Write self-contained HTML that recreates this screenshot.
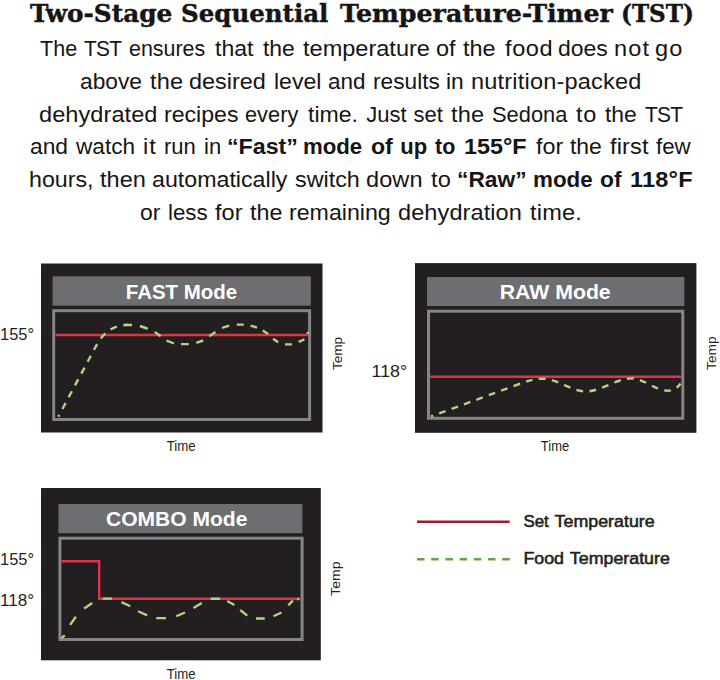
<!DOCTYPE html>
<html>
<head>
<meta charset="utf-8">
<style>
html,body{margin:0;padding:0;background:#fff;}
body{width:720px;height:680px;position:relative;overflow:hidden;color:#161414;}
.t{position:absolute;white-space:nowrap;line-height:1;transform-origin:0 0;}
.title{font-family:"DejaVu Serif","Liberation Serif",serif;font-weight:bold;font-size:25px;-webkit-text-stroke:0.45px #161414;}
.p{font-family:"Liberation Sans",sans-serif;font-size:22px;}
.ln{position:absolute;left:0;width:720px;height:30px;font-family:"Liberation Sans",sans-serif;font-size:22px;line-height:1;}
.w{position:absolute;top:0;white-space:nowrap;transform-origin:0 0;}
.w.b{font-weight:bold;}
svg{position:absolute;left:0;top:0;}
</style>
</head>
<body>
<svg width="720" height="680" viewBox="0 0 720 680" font-family="Liberation Sans, sans-serif">
  <!-- FAST -->
  <rect x="41" y="263.5" width="281.5" height="169" fill="#231f20"/>
  <rect x="52.6" y="276.3" width="258.2" height="29.4" fill="#6d6e71"/>
  <rect x="53.7" y="310.7" width="255.9" height="108.8" fill="none" stroke="#858486" stroke-width="3"/>
  <line x1="55.4" y1="335" x2="307.8" y2="335" stroke="#dc3448" stroke-width="2.4"/>
  <path d="M58.3,416.6 L95.5,347 C101,336.5 110,324.8 128,324.8" fill="none" stroke="#acd681" stroke-width="2.4" stroke-dasharray="6.8 6.6" stroke-dashoffset="4.8"/>
  <path d="M124.4,325 L132.1,325 M140,326 L147.75,328.75 M154.75,331.9 L160.6,336.25 M166.5,340.6 L174,343.5 M181,344.1 L188.75,344.1 M196.25,342.9 L203.2,340.5 M209.3,336.25 L215.4,332.1 M222.1,327.9 L229.2,325.7 M236.8,324.6 L243.75,324.6 M250.6,325.6 L256.9,327.5 M262.75,330.6 L268.1,334.1 M273.1,338.75 L278.1,342.25 M285,344.4 L291.9,344.4 M298.75,341.9 L304.4,339.4 M307.3,334 L308.3,332" fill="none" stroke="#acd681" stroke-width="2.4"/>
  <text x="181.5" y="299.3" fill="#fff" font-weight="bold" font-size="21" text-anchor="middle" textLength="111.3" lengthAdjust="spacingAndGlyphs">FAST Mode</text>
  <text x="0" y="340.4" fill="#231f20" font-size="17" textLength="34" lengthAdjust="spacingAndGlyphs">155°</text>
  <text transform="translate(342,370.1) rotate(-90)" fill="#231f20" font-size="13.4" textLength="33.3" lengthAdjust="spacingAndGlyphs">Temp</text>
  <text x="166.7" y="450.8" fill="#231f20" font-size="13.9" textLength="29" lengthAdjust="spacingAndGlyphs">Time</text>

  <!-- RAW -->
  <rect x="415" y="263.1" width="281.4" height="169.7" fill="#231f20"/>
  <rect x="427" y="277" width="257.3" height="29" fill="#6d6e71"/>
  <rect x="428.5" y="311.2" width="254.3" height="107.1" fill="none" stroke="#858486" stroke-width="3"/>
  <line x1="430.2" y1="376.8" x2="681.4" y2="376.8" stroke="#dc3448" stroke-width="2.4"/>
  <path d="M431,416.4 L518,384.5 C527,381.2 533,378.7 543,378.7 C558,378.7 571,391.4 586,391.4 C601,391.4 616,378.4 631.8,378.4 C644,378.4 655,390.7 668,390.7 C673,390.7 677,388.5 680.5,383.5" fill="none" stroke="#acd681" stroke-width="2.4" stroke-dasharray="6.8 6.4" stroke-dashoffset="4.5"/>
  <text x="555.2" y="298.7" fill="#fff" font-weight="bold" font-size="21" text-anchor="middle" textLength="111" lengthAdjust="spacingAndGlyphs">RAW Mode</text>
  <text x="371.6" y="376.8" fill="#231f20" font-size="17" textLength="35.6" lengthAdjust="spacingAndGlyphs">118°</text>
  <text transform="translate(715.6,369.9) rotate(-90)" fill="#231f20" font-size="13.4" textLength="33.6" lengthAdjust="spacingAndGlyphs">Temp</text>
  <text x="540.8" y="450.8" fill="#231f20" font-size="13.9" textLength="28.4" lengthAdjust="spacingAndGlyphs">Time</text>

  <!-- COMBO -->
  <rect x="41" y="488" width="279.8" height="172.3" fill="#231f20"/>
  <rect x="58.4" y="504" width="244" height="29.2" fill="#6d6e71"/>
  <rect x="59.9" y="538.2" width="242.2" height="101.3" fill="none" stroke="#858486" stroke-width="3"/>
  <path d="M61.6,561.2 L99.2,561.2 L99.2,598.7 L300.4,598.7" fill="none" stroke="#dc3448" stroke-width="2.4"/>
  <path d="M61.3,638.3 L64.75,635.4 M70.1,624.9 L75.9,616.6 M84.2,608.6 L92.2,603 M102.7,598.6 L111.9,598.6 M121.5,602.1 L130.25,606.25 M138.1,611.25 L147.25,615.4 M156.25,618.1 L166,618.1 M176.25,616.25 L185,612.5 M193.5,608 L201.7,603 M210.6,598.7 L220,598.7 M227.25,601 L234.4,605 M240.25,610 L247.25,615.6 M256,618.5 L264.75,618.5 M273.5,616.25 L281.5,612.5 M288.3,605.3 L292.9,600.5 M297.2,599.3 L299,598.8" fill="none" stroke="#acd681" stroke-width="2.4"/>
  <text x="176.7" y="525.6" fill="#fff" font-weight="bold" font-size="21" text-anchor="middle" textLength="141.4" lengthAdjust="spacingAndGlyphs">COMBO Mode</text>
  <text x="0" y="565.3" fill="#231f20" font-size="17" textLength="34" lengthAdjust="spacingAndGlyphs">155°</text>
  <text x="0" y="605.9" fill="#231f20" font-size="17" textLength="34" lengthAdjust="spacingAndGlyphs">118°</text>
  <text transform="translate(339.7,595.9) rotate(-90)" fill="#231f20" font-size="13.4" textLength="34.4" lengthAdjust="spacingAndGlyphs">Temp</text>
  <text x="166.7" y="678.8" fill="#231f20" font-size="13.9" textLength="29" lengthAdjust="spacingAndGlyphs">Time</text>

  <!-- legend -->
  <line x1="417" y1="521.7" x2="509.7" y2="521.7" stroke="#9e1a2e" stroke-width="2.4"/>
  <line x1="417" y1="559.2" x2="510" y2="559.2" stroke="#64a443" stroke-width="2.4" stroke-dasharray="7.5 6.7"/>
  <g fill="#231f20" stroke="#231f20" stroke-width="0.55" font-size="16.5">
  <text x="523.4" y="526.5" textLength="25.4" lengthAdjust="spacingAndGlyphs">Set</text>
  <text x="554.6" y="526.5" textLength="100.1" lengthAdjust="spacingAndGlyphs">Temperature</text>
  <text x="523.4" y="564.4" textLength="40.6" lengthAdjust="spacingAndGlyphs">Food</text>
  <text x="569.8" y="564.4" textLength="100.1" lengthAdjust="spacingAndGlyphs">Temperature</text>
  </g>
  </svg>

<div class="t title" id="title" style="left:0;top:0.8px;width:720px;height:30px;"><span class="w" style="left:30.00px;transform:scaleX(0.9909)">Two-Stage</span> <span class="w" style="left:180.72px;transform:scaleX(0.9799)">Sequential</span> <span class="w" style="left:340.00px;transform:scaleX(1.0122)">Temperature-Timer</span> <span class="w" style="left:621.45px;transform:scaleX(0.9227)">(TST)</span></div>
<div id="para">
<div class="ln" style="top:37.9px"><span class="w" style="left:39.50px;transform:scaleX(0.9797)">The</span> <span class="w" style="left:84.25px;transform:scaleX(0.9500);letter-spacing:-0.76px">TST</span> <span class="w" style="left:129.03px;transform:scaleX(0.9740)">ensures</span> <span class="w" style="left:215.00px;transform:scaleX(1.0473)">that</span> <span class="w" style="left:262.50px;transform:scaleX(1.0417)">the</span> <span class="w" style="left:302.50px;transform:scaleX(1.0699)">temperature</span> <span class="w" style="left:435.93px;transform:scaleX(1.0694)">of</span> <span class="w" style="left:463.00px;transform:scaleX(1.0667)">the</span> <span class="w" style="left:504.50px;transform:scaleX(1.0700);letter-spacing:0.56px">food</span> <span class="w" style="left:558.46px;transform:scaleX(1.0435)">does</span> <span class="w" style="left:614.43px;transform:scaleX(1.0700);letter-spacing:1.12px">not</span> <span class="w" style="left:655.18px;transform:scaleX(1.0700);letter-spacing:1.07px">go</span></div>
<div class="ln" style="top:70.75px"><span class="w" style="left:80.22px;transform:scaleX(1.0345)">above</span> <span class="w" style="left:150.00px;transform:scaleX(1.0700);letter-spacing:0.19px">the</span> <span class="w" style="left:189.44px;transform:scaleX(1.0643)">desired</span> <span class="w" style="left:273.95px;transform:scaleX(1.0465)">level</span> <span class="w" style="left:327.73px;transform:scaleX(1.0214)">and</span> <span class="w" style="left:372.72px;transform:scaleX(1.0317)">results</span> <span class="w" style="left:445.97px;transform:scaleX(1.0333)">in</span> <span class="w" style="left:470.93px;transform:scaleX(1.0700);letter-spacing:0.18px">nutrition-packed</span></div>
<div class="ln" style="top:103.6px"><span class="w" style="left:38.93px;transform:scaleX(1.0700);letter-spacing:0.07px">dehydrated</span> <span class="w" style="left:163.95px;transform:scaleX(1.0507)">recipes</span> <span class="w" style="left:245.26px;transform:scaleX(0.9906)">every</span> <span class="w" style="left:308.00px;transform:scaleX(1.0489)">time.</span> <span class="w" style="left:366.25px;transform:scaleX(1.0000)">Just</span> <span class="w" style="left:413.50px;transform:scaleX(1.0000)">set</span> <span class="w" style="left:451.25px;transform:scaleX(1.0700);letter-spacing:0.19px">the</span> <span class="w" style="left:491.51px;transform:scaleX(0.9933)">Sedona</span> <span class="w" style="left:576.25px;transform:scaleX(1.0700);letter-spacing:0.69px">to</span> <span class="w" style="left:605.00px;transform:scaleX(1.0417)">the</span> <span class="w" style="left:645.00px;transform:scaleX(0.9500);letter-spacing:-0.76px">TST</span></div>
<div class="ln" style="top:136.4px"><span class="w" style="left:30.21px;transform:scaleX(1.0357)">and</span> <span class="w" style="left:76.25px;transform:scaleX(1.0268)">watch</span> <span class="w" style="left:142.93px;transform:scaleX(1.0700);letter-spacing:0.93px">it</span> <span class="w" style="left:164.00px;transform:scaleX(1.0000)">run</span> <span class="w" style="left:204.00px;transform:scaleX(1.0000)">in</span> <span class="w b" style="left:226.64px;transform:scaleX(1.0547)">“Fast”</span> <span class="w b" style="left:303.49px;transform:scaleX(1.0088)">mode</span> <span class="w b" style="left:370.95px;transform:scaleX(1.0500)">of</span> <span class="w b" style="left:400.25px;transform:scaleX(1.0000)">up</span> <span class="w b" style="left:435.00px;transform:scaleX(0.9750)">to</span> <span class="w b" style="left:463.94px;transform:scaleX(1.0614)">155°F</span> <span class="w" style="left:535.50px;transform:scaleX(1.0600)">for</span> <span class="w" style="left:570.00px;transform:scaleX(1.0417)">the</span> <span class="w" style="left:609.50px;transform:scaleX(1.0700);letter-spacing:0.13px">first</span> <span class="w" style="left:656.25px;transform:scaleX(1.0147)">few</span></div>
<div class="ln" style="top:169.1px"><span class="w" style="left:28.94px;transform:scaleX(1.0560)">hours,</span> <span class="w" style="left:99.50px;transform:scaleX(1.0700)">then</span> <span class="w" style="left:151.95px;transform:scaleX(1.0547)">automatically</span> <span class="w" style="left:295.19px;transform:scaleX(1.0593)">switch</span> <span class="w" style="left:366.43px;transform:scaleX(1.0700);letter-spacing:0.08px">down</span> <span class="w" style="left:430.50px;transform:scaleX(1.0700);letter-spacing:0.22px">to</span> <span class="w b" style="left:456.68px;transform:scaleX(1.0352)">“Raw”</span> <span class="w b" style="left:533.48px;transform:scaleX(1.0175)">mode</span> <span class="w b" style="left:600.21px;transform:scaleX(1.0375)">of</span> <span class="w b" style="left:630.18px;transform:scaleX(1.0700);letter-spacing:0.19px">118°F</span></div>
<div class="ln" style="top:201.75px"><span class="w" style="left:140.21px;transform:scaleX(1.0417)">or</span> <span class="w" style="left:167.74px;transform:scaleX(1.0135)">less</span> <span class="w" style="left:214.50px;transform:scaleX(1.0700)">for</span> <span class="w" style="left:249.50px;transform:scaleX(1.0583)">the</span> <span class="w" style="left:289.45px;transform:scaleX(1.0532)">remaining</span> <span class="w" style="left:398.43px;transform:scaleX(1.0700);letter-spacing:0.08px">dehydration</span> <span class="w" style="left:529.50px;transform:scaleX(1.0700);letter-spacing:0.18px">time.</span></div>
</div>
</body>
</html>
